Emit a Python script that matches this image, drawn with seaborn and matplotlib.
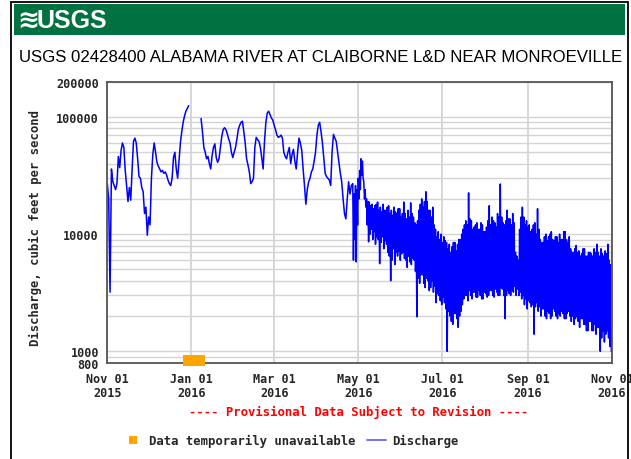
import numpy as np
import pandas as pd
import seaborn as sns
import matplotlib.pyplot as plt
import matplotlib.dates as mdates
from matplotlib.ticker import LogLocator, NullFormatter
from matplotlib.patches import Rectangle
from matplotlib.lines import Line2D

# ---- data ----
start_date = '2015-11-01'
end_date = '2016-11-01'
swing_start = '2016-04-27'
gap_start = '2015-12-26'   # "Data temporarily unavailable" bar
gap_end = '2016-01-11'

nan = np.nan
# daily discharge Nov 01 2015 - Apr 26 2016 (cfs), nan = missing record
daily_cfs = [
    27000, 20000, 3200, 36000, 28000, 26000, 24000, 27000, 46000, 37000,
    52000, 60000, 55000, 35000, 26000, 19000, 25000, 19500, 36000, 62000,
    66000, 60000, 44000, 31000, 30000, 25000, 23000, 15000, 17000, 9800,
    14000, 12000, 30000, 48000, 60000, 50000, 41000, 38000, 36000, 34000,
    35000, 33000, 34000, 32000, 29000, 27000, 26000, 30000, 45000, 50000,
    36000, 30000, 42000, 60000, 75000, 90000, 102000, 112000, 118000, 125000,
    nan, nan, nan, nan, nan, nan, nan, nan,
    97000, 75000, 55000, 50000, 44000, 46000, 40000, 36000, 47000, 55000,
    59000, 45000, 41000, 44000, 55000, 68000, 78000, 81000, 78000, 72000,
    65000, 60000, 50000, 45000, 50000, 55000, 65000, 78000, 85000, 90000,
    92000, 75000, 60000, 44000, 39000, 34000, 27000, 28000, 30000, 55000,
    67000, 64000, 62000, 55000, 45000, 36000, 62000, 90000, 108000, 112000,
    105000, 98000, 94000, 85000, 78000, 70000, 67000, 68000, 70000, 66000,
    50000, 46000, 44000, 50000, 55000, 40000, 48000, 53000, 42000, 36000,
    50000, 66000, 60000, 52000, 36000, 26000, 18000, 24000, 28000, 30000,
    34000, 36000, 42000, 50000, 70000, 85000, 90000, 75000, 60000, 45000,
    33000, 31000, 30000, 29000, 26000, 50000, 71000, 66000, 62000, 50000,
    40000, 33000, 28000, 20000, 15000, 13500, 20000, 28000, 22000, 26000,
]

# Apr 27 - Oct 31 2016: daily swings from dam releases, daily high / low (cfs)
swing_high = [
    27000, 22000, 26000, 24000, 30000, 35000, 44000, 42000, 28000, 24000,
    20000, 19000, 18800, 17500, 18000, 16500, 17500, 18000, 18800, 16000,
    17000, 15500, 18000, 16000, 16000, 17000, 17500, 15000, 16000, 14500,
    17000, 15500, 15000, 16500, 16500, 14000, 15000, 18800, 15000, 13500,
    16000, 14000, 18500, 15000, 14000, 12500, 12000, 13000, 16000, 18000,
    20000, 17000, 19000, 23000, 19000, 16000, 16000, 14000, 17000, 12000,
    11000, 9500, 10500, 9000, 10000, 8500, 9500, 8800, 8500, 7500,
    8200, 7000, 7800, 8500, 8500, 7200, 8200, 9000, 9000, 10000,
    11000, 12000, 13000, 12000, 22500, 13500, 13000, 11000, 11500, 12000,
    12500, 11000, 11000, 12500, 12000, 10500, 10500, 11500, 13000, 17500,
    12000, 14000, 13000, 12500, 11500, 15000, 14000, 26800, 14000, 12500,
    12000, 13000, 16000, 13500, 13500, 12000, 15000, 12500, 7000, 6500,
    6000, 11000, 14000, 17000, 14000, 12000, 13000, 11500, 12000, 10500,
    11000, 12000, 12500, 10000, 16500, 11000, 9000, 8500, 8500, 9500,
    10000, 8800, 9500, 10000, 10500, 9000, 8800, 9500, 9500, 8500,
    10000, 9000, 9000, 10500, 10500, 9000, 8500, 9500, 7500, 7000,
    7000, 7500, 8000, 7000, 7200, 6500, 6800, 7500, 7500, 6500,
    6500, 7000, 7000, 6800, 6500, 7500, 7000, 8200, 7000, 6500,
    7500, 6800, 6500, 7200, 6800, 8200, 6000, 5500,
]
swing_low = [
    6000, 9000, 5800, 12000, 20000, 24000, 32000, 30000, 20000, 17000,
    12000, 8600, 10000, 11000, 9000, 10500, 8200, 9500, 9000, 5600,
    8500, 9500, 7500, 8800, 8200, 7000, 6500, 4000, 6000, 7500,
    5500, 7000, 6500, 7200, 6000, 6800, 7000, 6200, 6000, 5200,
    6500, 5800, 5500, 6200, 6000, 4800, 1970, 4200, 3800, 4500,
    4500, 3800, 3500, 4200, 4000, 3300, 3500, 4000, 3200, 3600,
    2600, 3100, 3000, 2700, 2500, 2900, 2600, 2300, 1000, 2200,
    2000, 1800, 1700, 2100, 2100, 1900, 1600, 2000, 2200, 2500,
    2800, 3000, 3000, 2700, 3300, 3000, 2800, 3200, 3200, 2900,
    2900, 3300, 3000, 2800, 2800, 3200, 3100, 2900, 3000, 3300,
    3300, 3000, 2900, 3400, 3200, 3000, 3000, 3500, 3400, 3000,
    1900, 3000, 3300, 3100, 3000, 3300, 3200, 3600, 3000, 3400,
    3000, 3200, 2800, 3000, 2500, 2800, 2300, 2700, 2600, 2400,
    2500, 1400, 2400, 2600, 2200, 2400, 2000, 2300, 2300, 2000,
    1900, 2200, 2100, 1900, 2000, 2300, 2200, 2000, 1900, 2100,
    2000, 2200, 2100, 1900, 1900, 2100, 2200, 2000, 1800, 2000,
    1700, 1900, 2000, 1800, 1600, 1900, 1900, 1700, 1700, 1500,
    1500, 1800, 1800, 1500, 1500, 1700, 1400, 1600, 1600, 1000,
    1300, 1500, 1200, 1400, 1500, 1300, 1100, 1000,
]

y_ticks = [800, 1000, 10000, 100000, 200000]
title = 'USGS 02428400 ALABAMA RIVER AT CLAIBORNE L&D NEAR MONROEVILLE'

# ---- build table ----
swing = np.column_stack([swing_high, swing_low]).ravel()
df = pd.concat([
    pd.DataFrame({'date': pd.date_range(start_date, periods=len(daily_cfs), freq='D'),
                  'cfs': daily_cfs}),
    pd.DataFrame({'date': pd.date_range(swing_start, periods=len(swing), freq='12h'),
                  'cfs': swing}),
], ignore_index=True)
df['seg'] = df['cfs'].isna().cumsum()
df = df.dropna()

# ---- figure ----
sns.set_style('white')
mono = ['DejaVu Sans Mono']
W, H = 631, 460
fx = lambda x: x / W
fy = lambda y: 1 - y / H

fig = plt.figure(figsize=(6.31, 4.60), dpi=100)
fig.patch.set_facecolor('white')

# outer frame + green banner
fig.patches.append(Rectangle((fx(11), fy(475)), fx(617), 472 / H, transform=fig.transFigure,
                             fill=False, ec='black', lw=1.3))
fig.patches.append(Rectangle((fx(14), fy(36)), fx(611), 31 / H, transform=fig.transFigure,
                             fc='#007140', ec='none'))
fig.text(fx(17), fy(21), '\u224b', color='white', fontsize=19, fontweight='bold',
         ha='left', va='center', family='DejaVu Sans')
fig.text(fx(37), fy(21), 'USGS', color='white', fontsize=18, fontweight='bold',
         ha='left', va='center', family='Liberation Sans')
fig.text(fx(321), fy(58), title, color='black', fontsize=12.1,
         ha='center', va='center', family='Liberation Sans')

ax = fig.add_axes([fx(107.3), fy(363.7), (612 - 107.3) / W, (363.7 - 82.7) / H])
sns.lineplot(data=df, x='date', y='cfs', units='seg', estimator=None,
             color='#0000ff', lw=1.1, ax=ax, legend=False)

ax.set_yscale('log')
ax.set_ylim(800, 200000)
ax.set_xlim(pd.Timestamp(start_date), pd.Timestamp(end_date))
ax.set_yticks(y_ticks, [str(v) for v in y_ticks])
ax.yaxis.set_minor_locator(LogLocator(base=10, subs=np.arange(2, 10)))
ax.yaxis.set_minor_formatter(NullFormatter())
ax.xaxis.set_major_locator(mdates.MonthLocator(bymonth=[1, 3, 5, 7, 9, 11]))
ax.xaxis.set_major_formatter(mdates.DateFormatter('%b %d\n%Y'))
ax.tick_params(which='both', length=0)
ax.tick_params(axis='y', pad=6)
ax.tick_params(axis='x', pad=7)
for lab in ax.get_xticklabels() + ax.get_yticklabels():
    lab.set_family(mono)
    lab.set_fontweight('bold')
    lab.set_fontsize(8.5)
    lab.set_linespacing(1.1)

ax.grid(True, which='both', axis='y', color='#d4d4d4', lw=1.0)
ax.grid(True, which='major', axis='x', color='#d4d4d4', lw=1.3)
ax.set_axisbelow(True)
for s in ax.spines.values():
    s.set_color('#555555')
    s.set_linewidth(1.3)

ax.set_xlabel('')
ax.set_ylabel('Discharge, cubic feet per second', family=mono, fontweight='bold', fontsize=8.8)
ax.yaxis.set_label_coords(-0.129, 0.483)

# missing-record bar
g0 = mdates.date2num(pd.Timestamp(gap_start))
g1 = mdates.date2num(pd.Timestamp(gap_end))
ax.add_patch(Rectangle((g0, -0.012), g1 - g0, 0.039, transform=ax.get_xaxis_transform(),
                       fc='#ffa500', ec='none', clip_on=False, zorder=5))

fig.text(fx(359), fy(412), '---- Provisional Data Subject to Revision ----', color='red',
         ha='center', va='center', family=mono, fontweight='bold', fontsize=8.8)

# legend
fig.patches.append(Rectangle((fx(129), fy(445)), fx(8), 8 / H, transform=fig.transFigure,
                             fc='#ffa500', ec='none'))
fig.text(fx(149), fy(441), 'Data temporarily unavailable', ha='left', va='center',
         family=mono, fontweight='bold', fontsize=8.8)
fig.lines.append(Line2D([fx(367), fx(386)], [fy(441), fy(441)], transform=fig.transFigure,
                        color='#6666ff', lw=1.3))
fig.text(fx(392), fy(441), 'Discharge', ha='left', va='center',
         family=mono, fontweight='bold', fontsize=8.8)

fig.savefig('out.png', dpi=100)
